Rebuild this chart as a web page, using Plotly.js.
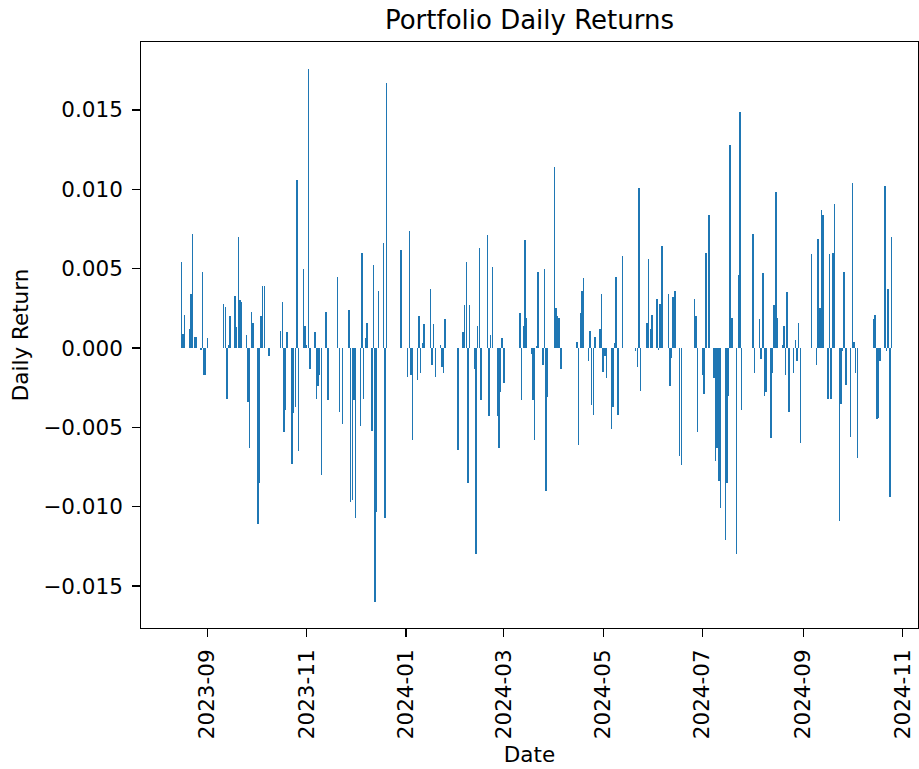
<!DOCTYPE html>
<html>
<head>
<meta charset="utf-8">
<script src="https://cdn.plot.ly/plotly-3.0.1.min.js"></script>
<style>
  html, body { margin: 0; padding: 0; background: #ffffff; }
  #chart { width: 919px; height: 769px; }
</style>
</head>
<body>
<div id="chart"></div>
<script>
// ---- data ----
const dates = [
  "2023-08-16","2023-08-17","2023-08-18",
  "2023-08-21","2023-08-22","2023-08-23","2023-08-24","2023-08-25",
  "2023-08-28","2023-08-29","2023-08-30","2023-08-31","2023-09-01",
  "2023-09-11","2023-09-12","2023-09-13","2023-09-14","2023-09-15",
  "2023-09-18","2023-09-19","2023-09-20","2023-09-21","2023-09-22",
  "2023-09-25","2023-09-26","2023-09-27","2023-09-28","2023-09-29",
  "2023-10-02","2023-10-03","2023-10-04","2023-10-05","2023-10-06",
  "2023-10-09",
  "2023-10-16","2023-10-17","2023-10-18","2023-10-19","2023-10-20",
  "2023-10-23","2023-10-24","2023-10-25","2023-10-26","2023-10-27",
  "2023-10-30","2023-10-31","2023-11-01","2023-11-02","2023-11-03",
  "2023-11-06","2023-11-07","2023-11-08","2023-11-09","2023-11-10",
  "2023-11-13","2023-11-14",
  "2023-11-20","2023-11-21","2023-11-23",
  "2023-11-27","2023-11-28","2023-11-29","2023-11-30","2023-12-01",
  "2023-12-04","2023-12-05","2023-12-06","2023-12-07","2023-12-08",
  "2023-12-11","2023-12-12","2023-12-13","2023-12-14","2023-12-15",
  "2023-12-18","2023-12-19","2023-12-20",
  "2023-12-29",
  "2024-01-02","2024-01-03","2024-01-04","2024-01-05",
  "2024-01-08","2024-01-09","2024-01-10","2024-01-11","2024-01-12",
  "2024-01-16","2024-01-17","2024-01-18","2024-01-19",
  "2024-01-22","2024-01-23","2024-01-24","2024-01-25",
  "2024-02-02",
  "2024-02-05","2024-02-06","2024-02-07","2024-02-08","2024-02-09",
  "2024-02-12","2024-02-13","2024-02-14","2024-02-15","2024-02-16",
  "2024-02-20","2024-02-21","2024-02-22","2024-02-23",
  "2024-02-26","2024-02-27","2024-02-28","2024-02-29","2024-03-01",
  "2024-03-11","2024-03-12","2024-03-13","2024-03-14","2024-03-15",
  "2024-03-18","2024-03-19","2024-03-20","2024-03-21","2024-03-22",
  "2024-03-25","2024-03-26","2024-03-27","2024-03-28",
  "2024-04-01","2024-04-02","2024-04-03","2024-04-04","2024-04-05",
  "2024-04-15","2024-04-16","2024-04-17","2024-04-18","2024-04-19",
  "2024-04-22","2024-04-23","2024-04-24","2024-04-25","2024-04-26",
  "2024-04-29","2024-04-30","2024-05-01","2024-05-02","2024-05-03",
  "2024-05-06","2024-05-07","2024-05-08","2024-05-09","2024-05-10",
  "2024-05-13",
  "2024-05-21","2024-05-22","2024-05-23","2024-05-24",
  "2024-05-28","2024-05-29","2024-05-30","2024-05-31",
  "2024-06-03","2024-06-04","2024-06-05","2024-06-06",
  "2024-06-10","2024-06-11","2024-06-12","2024-06-13","2024-06-14",
  "2024-06-17","2024-06-18",
  "2024-06-26","2024-06-27","2024-06-28",
  "2024-07-01","2024-07-02","2024-07-03","2024-07-05",
  "2024-07-08","2024-07-09","2024-07-10","2024-07-11","2024-07-12",
  "2024-07-15","2024-07-16","2024-07-17","2024-07-18","2024-07-19",
  "2024-07-22","2024-07-23","2024-07-24","2024-07-25",
  "2024-08-01","2024-08-02",
  "2024-08-05","2024-08-06","2024-08-07","2024-08-08","2024-08-09",
  "2024-08-12","2024-08-13","2024-08-14","2024-08-15","2024-08-16",
  "2024-08-19","2024-08-20","2024-08-21","2024-08-22","2024-08-23",
  "2024-08-26","2024-08-27","2024-08-28","2024-08-29","2024-08-30",
  "2024-09-06",
  "2024-09-09","2024-09-10","2024-09-11","2024-09-12","2024-09-13",
  "2024-09-16","2024-09-17","2024-09-18","2024-09-19","2024-09-20",
  "2024-09-23","2024-09-24","2024-09-25","2024-09-26","2024-09-27",
  "2024-09-30","2024-10-01","2024-10-02","2024-10-03","2024-10-04",
  "2024-10-14","2024-10-15","2024-10-16","2024-10-17","2024-10-18",
  "2024-10-21","2024-10-22","2024-10-23","2024-10-24","2024-10-25"
];

const dailyReturns = [
  0.0054, 0.0009, 0.0021,
  0.0012, 0.0034, 0.0072, 0.0007, 0.0007,
  -0.0001, 0.0048, -0.0017, -0.0017, 0.0006,
  0.0028, 0.0026, -0.0032, 0.0002, 0.0020,
  0.0033, 0.0013, 0.0070, 0.0030, 0.0029,
  0.0008, -0.0034, -0.0063, 0.0023, 0.0016,
  -0.0111, -0.0085, 0.0020, 0.0039, 0.0039,
  -0.0005,
  0.0011, 0.0029, -0.0053, -0.0039, 0.0010,
  -0.0073, -0.0041, -0.0037, 0.0106, -0.0065,
  0.0050, 0.0014, 0.0002, 0.0176, -0.0013,
  0.0010, -0.0032, -0.0024, -0.0017, -0.0080,
  0.0023, -0.0033,
  0.0045, -0.0040, -0.0048,
  0.0024, -0.0097, -0.0096, -0.0033, -0.0107,
  -0.0049, 0.0060, -0.0032, 0.0006, 0.0016,
  -0.0052, 0.0052, -0.0160, -0.0103, 0.0036,
  0.0066, -0.0107, 0.0167,
  0.0062,
  -0.0018, 0.0074, -0.0017, -0.0058,
  -0.0020, 0.0020, -0.0016, 0.0003, 0.0015,
  0.0037, -0.0011, 0.0015, -0.0018,
  0.0002, -0.0012, -0.0016, 0.0018,
  -0.0064,
  0.0010, 0.0027, 0.0054, -0.0085, 0.0027,
  -0.0013, -0.0130, 0.0014, 0.0063, -0.0033,
  0.0071, -0.0043, 0.0008, 0.0051,
  -0.0043, -0.0063, -0.0028, 0.0006, -0.0022,
  0.0022, -0.0033, 0.0014, 0.0068, 0.0019,
  -0.0004, -0.0033, -0.0058, 0.0001, 0.0048,
  -0.0011, 0.0050, -0.0090, -0.0031,
  0.0114, 0.0025, 0.0020, 0.0019, -0.0013,
  0.0004, -0.0061, 0.0022, 0.0036, 0.0044,
  -0.0008, 0.0011, -0.0036, -0.0042, 0.0007,
  0.0012, 0.0034, -0.0015, -0.0005, -0.0019,
  -0.0051, -0.0037, 0.0003, 0.0045, -0.0042,
  0.0058,
  -0.0002, -0.0012, 0.0101, -0.0027,
  0.0016, 0.0056, 0.0012, 0.0021,
  0.0031, -0.0001, 0.0028, 0.0064,
  0.0034, -0.0024, -0.0006, 0.0032, 0.0036,
  -0.0068, -0.0074,
  0.0031, 0.0020, -0.0053,
  -0.0017, -0.0029, 0.0060, 0.0084,
  -0.0019, -0.0071, -0.0063, -0.0084, -0.0101,
  -0.0121, -0.0085, -0.0030, 0.0128, 0.0019,
  -0.0130, 0.0046, 0.0149, -0.0039,
  0.0072, -0.0016,
  0.0018, -0.0007, 0.0047, -0.0030, -0.0028,
  -0.0057, -0.0016, 0.0027, 0.0098, 0.0019,
  0.0002, 0.0014, -0.0017, 0.0035, -0.0040,
  -0.0016, 0.0005, -0.0008, 0.0016, -0.0060,
  0.0059,
  -0.0011, 0.0069, 0.0025, 0.0087, 0.0084,
  -0.0032, 0.0059, -0.0032, 0.0060, 0.0091,
  -0.0109, -0.0035, -0.0002, 0.0048, -0.0023,
  -0.0056, 0.0104, 0.0004, -0.0016, -0.0069,
  0.0018, 0.0021, -0.0045, -0.0044, -0.0008,
  0.0102, -0.0002, 0.0037, -0.0094, 0.0070
];

const xTickVals = ["2023-09-01","2023-11-01","2024-01-01","2024-03-01","2024-05-01","2024-07-01","2024-09-01","2024-11-01"];
const xTickText = ["2023-09","2023-11","2024-01","2024-03","2024-05","2024-07","2024-09","2024-11"];
const yTickVals = [-0.015, -0.010, -0.005, 0.000, 0.005, 0.010, 0.015];
const yTickText = ["\u22120.015","\u22120.010","\u22120.005","0.000","0.005","0.010","0.015"];

// ---- chart ----
const DAY_MS = 86400000;
const FONT = "DejaVu Sans, sans-serif";

const trace = {
  type: "bar",
  x: dates,
  y: dailyReturns,
  width: dates.map(() => 0.9 * DAY_MS),
  marker: { color: "#1f77b4", line: { width: 0 } },
  hoverinfo: "x+y"
};

const layout = {
  width: 919,
  height: 769,
  paper_bgcolor: "#ffffff",
  plot_bgcolor: "#ffffff",
  margin: { l: 141, r: 1, t: 42, b: 141, pad: 0 },
  showlegend: false,
  bargap: 0,
  font: { family: FONT, color: "#000000", size: 22 },
  title: {
    text: "Portfolio Daily Returns",
    font: { family: FONT, size: 26, color: "#000000" },
    x: 0.5, xref: "paper",
    y: 1 - 20 / 769, yref: "container",
    xanchor: "center", yanchor: "middle"
  },
  xaxis: {
    type: "date",
    range: ["2023-07-22 07:00", "2024-11-10 07:00"],
    tickmode: "array",
    tickvals: xTickVals,
    ticktext: xTickText,
    tickangle: -90,
    ticks: "outside",
    ticklen: 7.6,
    tickwidth: 1.2,
    tickcolor: "#000000",
    ticklabelstandoff: 4,
    tickfont: { family: FONT, size: 21.5, color: "#000000" },
    showline: true,
    linecolor: "#000000",
    linewidth: 1.2,
    mirror: true,
    showgrid: false,
    zeroline: false,
    automargin: false,
    title: { text: "Date", font: { family: FONT, size: 21.5, color: "#000000" }, standoff: 8 }
  },
  yaxis: {
    range: [-0.01764, 0.01928],
    tickmode: "array",
    tickvals: yTickVals,
    ticktext: yTickText,
    ticks: "outside",
    ticklen: 7.6,
    tickwidth: 1.2,
    tickcolor: "#000000",
    ticklabelstandoff: 5,
    tickfont: { family: FONT, size: 21.5, color: "#000000" },
    showline: true,
    linecolor: "#000000",
    linewidth: 1.2,
    mirror: true,
    showgrid: false,
    zeroline: false,
    automargin: false,
    title: { text: "Daily Return", font: { family: FONT, size: 21.5, color: "#000000" }, standoff: 8 }
  }
};

Plotly.newPlot("chart", [trace], layout, { displayModeBar: false, staticPlot: true });
</script>
</body>
</html>
